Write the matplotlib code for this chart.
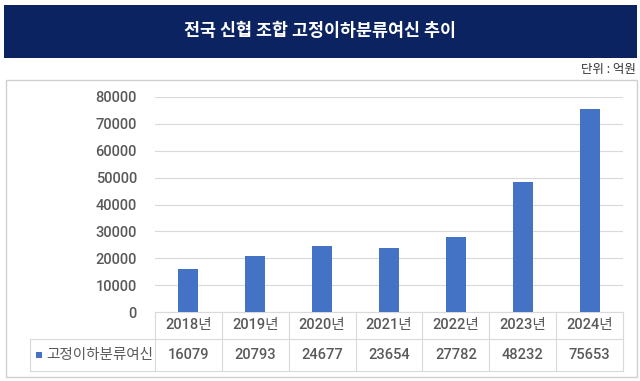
import matplotlib
matplotlib.use('Agg')
import matplotlib.pyplot as plt
from matplotlib.patches import Rectangle
from matplotlib.lines import Line2D

plt.rcParams['font.family'] = ['Roboto', 'Noto Sans CJK KR', 'DejaVu Sans']

# Data
years = ['2018년', '2019년', '2020년', '2021년', '2022년', '2023년', '2024년']
values = [16079, 20793, 24677, 23654, 27782, 48232, 75653]
series_name = '고정이하분류여신'
title = '전국 신협 조합 고정이하분류여신 추이'
unit = '단위 : 억원'

W, H = 640, 381
bar_color = '#4472c4'
grid_color = '#d9d9d9'
text_color = '#595959'
kr_font = ['Noto Sans CJK KR', 'DejaVu Sans']


def fx(x):
    return x / W


def fy(y):
    return 1 - y / H


fig = plt.figure(figsize=(6.4, 3.81), dpi=100)

# Title banner
fig.add_artist(Rectangle((fx(4), fy(58)), fx(633), 53 / H, transform=fig.transFigure,
                         facecolor='#0b2360', edgecolor='none', zorder=-2))
fig.text(fx(320), fy(31), title, color='white', fontsize=12.5, fontweight='bold',
         family=kr_font, ha='center', va='center')
fig.text(fx(636), fy(70), unit, color='#333333', fontsize=9, fontweight='medium',
         family=kr_font, ha='right', va='center')

# Chart frame
fig.add_artist(Rectangle((fx(6), fy(377)), fx(631), 297 / H, transform=fig.transFigure,
                         facecolor='white', edgecolor='#d0d0d0', linewidth=1, zorder=-2))

# Plot area
left, right, top, bottom = 155, 623, 97, 312
ax = fig.add_axes([fx(left), fy(bottom), fx(right - left), (bottom - top) / H])
ax.set_zorder(2)
x = range(len(years))
ax.bar(x, values, width=0.3, color=bar_color, zorder=3)
ax.set_xlim(-0.5, len(years) - 0.5)
ax.set_ylim(0, 80000)
ax.set_yticks(range(0, 80001, 10000))
ax.set_xticks([])
ax.tick_params(axis='y', length=0, pad=13, labelsize=10.5, labelcolor=text_color)
for lab in ax.get_yticklabels():
    lab.set_fontweight('medium')
ax.grid(axis='y', color=grid_color, linewidth=0.8, zorder=0)
for s in ['top', 'right', 'left']:
    ax.spines[s].set_visible(False)
ax.spines['bottom'].set_color(grid_color)
ax.patch.set_alpha(0)

# Data table below the axis
cell_w = (right - left) / len(years)
row1, row2, row3 = 312, 339, 371
leg_left = 30


def hline(y, x0, x1):
    fig.add_artist(Line2D([fx(x0), fx(x1)], [fy(y), fy(y)], transform=fig.transFigure,
                          color=grid_color, linewidth=0.8))


def vline(xp, y0, y1):
    fig.add_artist(Line2D([fx(xp), fx(xp)], [fy(y0), fy(y1)], transform=fig.transFigure,
                          color=grid_color, linewidth=0.8))


hline(row2, leg_left, right)
hline(row3, leg_left, right)
vline(leg_left, row2, row3)
for i in range(len(years) + 1):
    vline(left + i * cell_w, row1, row3)

for i, (yr, v) in enumerate(zip(years, values)):
    cx = left + (i + 0.5) * cell_w
    fig.text(fx(cx), fy((row1 + row2) / 2), yr, color=text_color, fontsize=10.5,
             fontweight='medium', ha='center', va='center')
    fig.text(fx(cx), fy((row2 + row3) / 2), str(v), color=text_color, fontsize=10.5,
             fontweight='medium', ha='center', va='center')

ym = (row2 + row3) / 2
fig.add_artist(Rectangle((fx(36), fy(ym + 3)), 6 / W, 6 / H, transform=fig.transFigure,
                         facecolor=bar_color, edgecolor='none'))
fig.text(fx(46), fy(ym), series_name, color=text_color, fontsize=10.5, fontweight='medium',
         family=kr_font, ha='left', va='center')

fig.savefig('out.png', dpi=100)
